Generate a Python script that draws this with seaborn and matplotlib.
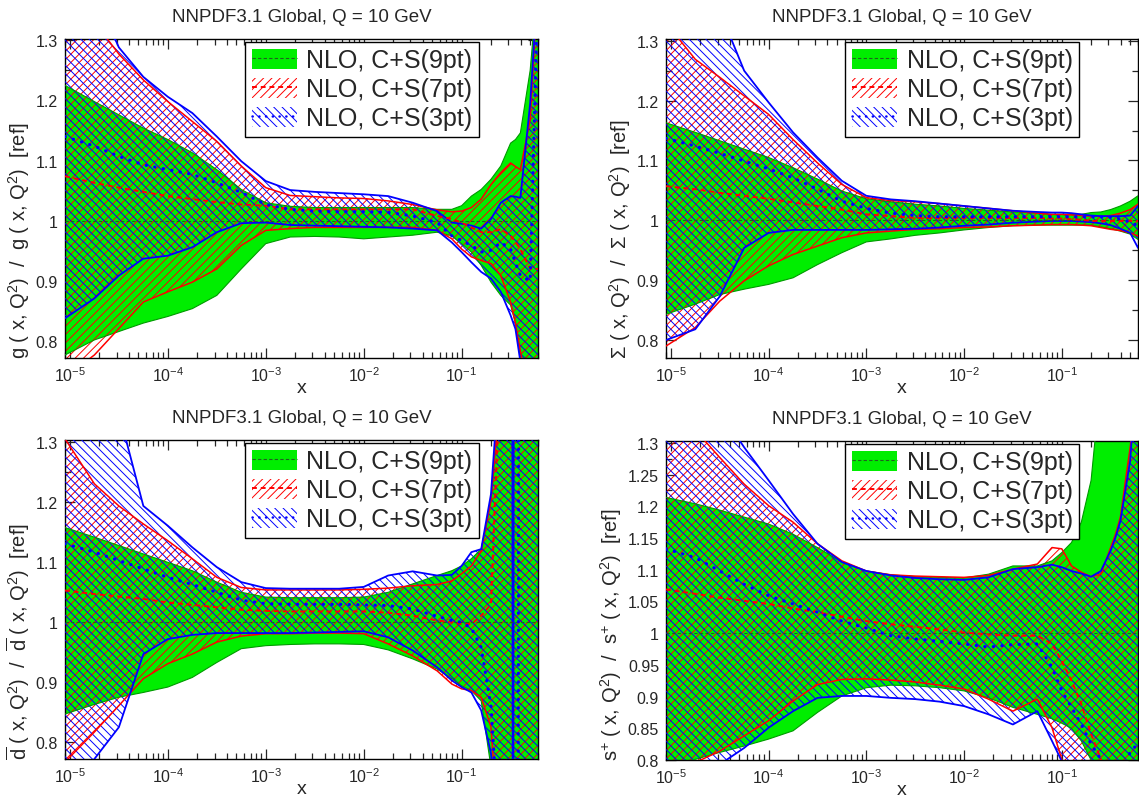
import numpy as np
import matplotlib
matplotlib.use('Agg')
import matplotlib.pyplot as plt
import seaborn as sns
from matplotlib.patches import Patch
from matplotlib.lines import Line2D
from matplotlib.ticker import LogLocator, MultipleLocator, FormatStrFormatter, NullFormatter

# log10(x) grid shared by all panels
logx = [-5.05, -4.75, -4.5, -4.25, -4.0, -3.75, -3.5, -3.25, -3.0, -2.75, -2.5, -2.25, -2.0, -1.75,
        -1.5, -1.25, -1.1, -1.0, -0.9, -0.8, -0.7, -0.6, -0.5, -0.45, -0.4, -0.3, -0.22]

# gluon
g9_up = [1.225, 1.198, 1.176, 1.154, 1.135, 1.113, 1.085, 1.052, 1.030, 1.024, 1.022, 1.022, 1.022, 1.022,
         1.022, 1.019, 1.019, 1.025, 1.041, 1.052, 1.069, 1.091, 1.129, 1.135, 1.146, 1.25, 1.40]
g9_lo = [0.777, 0.802, 0.816, 0.830, 0.841, 0.854, 0.876, 0.920, 0.962, 0.973, 0.974, 0.973, 0.970, 0.973,
         0.976, 0.981, 0.975, 0.962, 0.948, 0.926, 0.898, 0.876, 0.860, 0.83, 0.772, 0.70, 0.70]
g7_up = [1.40, 1.33, 1.277, 1.234, 1.198, 1.165, 1.132, 1.091, 1.055, 1.042, 1.040, 1.038, 1.037, 1.033,
         1.027, 1.018, 1.015, 1.016, 1.022, 1.036, 1.060, 1.080, 1.096, 1.09, 1.085, 1.168, 1.40]
g7_lo = [0.74, 0.777, 0.821, 0.865, 0.882, 0.898, 0.920, 0.959, 0.984, 0.987, 0.989, 0.989, 0.989, 0.989,
         0.989, 0.984, 0.970, 0.953, 0.940, 0.934, 0.929, 0.909, 0.865, 0.83, 0.783, 0.70, 0.70]
g7_c = [1.074, 1.063, 1.055, 1.048, 1.041, 1.036, 1.031, 1.027, 1.025, 1.019, 1.019, 1.019, 1.019, 1.019,
        1.019, 1.008, 1.003, 0.997, 0.989, 0.981, 0.981, 0.986, 0.975, 0.965, 0.953, 0.920, 0.920]
g3_up = [1.45, 1.38, 1.288, 1.239, 1.206, 1.179, 1.140, 1.099, 1.066, 1.051, 1.048, 1.046, 1.044, 1.041,
         1.030, 1.016, 0.997, 0.995, 0.992, 0.987, 1.003, 1.030, 1.041, 1.04, 1.038, 1.195, 1.40]
g3_lo = [0.838, 0.871, 0.909, 0.937, 0.942, 0.956, 0.981, 0.996, 0.997, 0.993, 0.992, 0.991, 0.990, 0.989,
         0.987, 0.984, 0.964, 0.948, 0.931, 0.915, 0.904, 0.882, 0.843, 0.82, 0.766, 0.70, 0.70]
g3_c = [1.140, 1.124, 1.107, 1.093, 1.085, 1.077, 1.063, 1.047, 1.027, 1.019, 1.016, 1.015, 1.015, 1.014,
        1.008, 0.997, 0.975, 0.967, 0.959, 0.948, 0.951, 0.964, 0.953, 0.93, 0.909, 0.90, 1.40]

# singlet
S9_up = [1.163, 1.147, 1.133, 1.119, 1.105, 1.088, 1.069, 1.049, 1.036, 1.031, 1.027, 1.024, 1.020, 1.017,
         1.014, 1.012, 1.010, 1.010, 1.010, 1.010, 1.013, 1.014, 1.018, 1.021, 1.024, 1.032, 1.041]
S9_lo = [0.843, 0.860, 0.876, 0.885, 0.893, 0.904, 0.926, 0.946, 0.964, 0.969, 0.975, 0.979, 0.984, 0.988,
         0.991, 0.992, 0.992, 0.992, 0.992, 0.992, 0.992, 0.989, 0.986, 0.984, 0.982, 0.977, 0.968]
S7_up = [1.33, 1.269, 1.239, 1.208, 1.177, 1.135, 1.096, 1.060, 1.038, 1.033, 1.031, 1.028, 1.024, 1.020,
         1.016, 1.012, 1.010, 1.010, 1.009, 1.008, 1.007, 1.007, 1.008, 1.010, 1.012, 1.018, 1.027]
S7_lo = [0.79, 0.821, 0.865, 0.899, 0.924, 0.943, 0.957, 0.971, 0.979, 0.982, 0.985, 0.986, 0.988, 0.989,
         0.991, 0.992, 0.993, 0.993, 0.993, 0.992, 0.991, 0.988, 0.985, 0.984, 0.983, 0.979, 0.974]
S7_c = [1.057, 1.052, 1.046, 1.041, 1.036, 1.030, 1.024, 1.018, 1.010, 1.007, 1.004, 1.004, 1.004, 1.004,
        1.004, 1.004, 1.003, 1.003, 1.002, 1.001, 0.999, 0.999, 0.999, 0.999, 0.999, 0.999, 0.999]
S3_up = [1.6, 1.45, 1.35, 1.250, 1.197, 1.147, 1.105, 1.066, 1.041, 1.035, 1.032, 1.028, 1.024, 1.020,
         1.016, 1.014, 1.013, 1.013, 1.012, 1.010, 1.008, 1.007, 1.007, 1.007, 1.007, 1.008, 1.024]
S3_lo = [0.800, 0.818, 0.873, 0.954, 0.979, 0.984, 0.984, 0.984, 0.984, 0.985, 0.986, 0.988, 0.991, 0.993,
         0.996, 0.998, 0.999, 0.999, 0.999, 0.998, 0.997, 0.995, 0.992, 0.989, 0.986, 0.979, 0.954]
S3_c = [1.137, 1.124, 1.112, 1.099, 1.086, 1.071, 1.052, 1.032, 1.020, 1.012, 1.008, 1.006, 1.006, 1.006,
        1.006, 1.006, 1.006, 1.006, 1.006, 1.006, 1.006, 1.006, 1.005, 1.004, 1.002, 0.997, 0.991]

# dbar
D9_up = [1.158, 1.142, 1.128, 1.114, 1.100, 1.086, 1.067, 1.050, 1.042, 1.041, 1.041, 1.041, 1.042, 1.050,
         1.064, 1.078, 1.086, 1.094, 1.106, 1.122, 1.203, 1.40, 1.40, 1.40, 1.40, 1.40, 1.40]
D9_lo = [0.847, 0.863, 0.875, 0.883, 0.892, 0.908, 0.933, 0.956, 0.961, 0.963, 0.964, 0.964, 0.963, 0.954,
         0.939, 0.922, 0.906, 0.894, 0.886, 0.869, 0.758, 0.60, 0.60, 0.60, 0.60, 0.60, 0.60]
D7_up = [1.306, 1.231, 1.194, 1.164, 1.136, 1.106, 1.075, 1.058, 1.054, 1.054, 1.054, 1.054, 1.055, 1.057,
         1.061, 1.063, 1.069, 1.081, 1.094, 1.119, 1.203, 1.40, 1.40, 1.40, 1.40, 1.40, 1.40]
D7_lo = [0.767, 0.817, 0.861, 0.906, 0.931, 0.947, 0.967, 0.977, 0.981, 0.981, 0.982, 0.982, 0.981, 0.964,
         0.944, 0.919, 0.897, 0.889, 0.886, 0.875, 0.825, 0.60, 0.60, 0.60, 0.60, 0.60, 0.60]
D7_c = [1.053, 1.047, 1.043, 1.039, 1.033, 1.029, 1.025, 1.021, 1.019, 1.018, 1.018, 1.018, 1.018, 1.016,
        1.011, 1.003, 1.000, 0.997, 0.997, 1.011, 1.03, 1.45, 1.45, 1.45, 1.45, 1.45, 1.45]
D3_up = [1.6, 1.45, 1.35, 1.194, 1.161, 1.125, 1.092, 1.067, 1.057, 1.056, 1.056, 1.056, 1.059, 1.078,
         1.085, 1.078, 1.079, 1.094, 1.117, 1.122, 1.214, 1.45, 5.0, -5.0, -5.0, -5.0, -5.0]
D3_lo = [0.70, 0.772, 0.825, 0.947, 0.972, 0.979, 0.982, 0.982, 0.982, 0.982, 0.983, 0.984, 0.985, 0.975,
         0.953, 0.925, 0.903, 0.892, 0.883, 0.853, 0.781, 0.60, -5.0, 5.0, 5.0, 5.0, 5.0]
D3_c = [1.131, 1.117, 1.103, 1.089, 1.075, 1.063, 1.050, 1.037, 1.031, 1.030, 1.030, 1.030, 1.029, 1.028,
        1.022, 1.010, 1.003, 1.000, 0.990, 0.958, 0.86, 0.60, -5.0, -5.0, 5.0, 5.0, 5.0]

# s+
s9_up = [1.214, 1.204, 1.194, 1.183, 1.172, 1.156, 1.135, 1.112, 1.098, 1.092, 1.089, 1.088, 1.087, 1.093,
         1.106, 1.106, 1.114, 1.127, 1.143, 1.175, 1.241, 1.40, 1.40, 1.40, 1.40, 1.40, 1.40]
s9_lo = [0.79, 0.801, 0.812, 0.822, 0.833, 0.846, 0.875, 0.901, 0.914, 0.918, 0.917, 0.914, 0.909, 0.898,
         0.883, 0.872, 0.865, 0.858, 0.850, 0.83, 0.80, 0.70, 0.70, 0.70, 0.70, 0.70, 0.70]
s7_up = [1.40, 1.32, 1.277, 1.235, 1.201, 1.175, 1.141, 1.114, 1.098, 1.092, 1.090, 1.089, 1.088, 1.091,
         1.101, 1.109, 1.135, 1.133, 1.106, 1.096, 1.089, 1.093, 1.135, 1.156, 1.183, 1.293, 1.40]
s7_lo = [0.783, 0.796, 0.814, 0.838, 0.862, 0.893, 0.919, 0.927, 0.928, 0.926, 0.923, 0.918, 0.912, 0.896,
         0.877, 0.896, 0.851, 0.801, 0.70, 0.70, 0.70, 0.70, 0.70, 0.70, 0.70, 0.70, 0.70]
s7_c = [1.069, 1.062, 1.056, 1.051, 1.046, 1.039, 1.033, 1.026, 1.019, 1.014, 1.010, 1.006, 1.001, 0.998,
        0.996, 0.996, 0.983, 0.956, 0.925, 0.888, 0.841, 0.801, 0.70, 0.70, 0.70, 0.70, 0.70]
s3_up = [1.6, 1.45, 1.35, 1.293, 1.241, 1.188, 1.141, 1.112, 1.098, 1.091, 1.087, 1.085, 1.084, 1.088,
         1.101, 1.104, 1.108, 1.104, 1.098, 1.094, 1.089, 1.098, 1.130, 1.151, 1.177, 1.272, 1.45]
s3_lo = [0.70, 0.74, 0.793, 0.819, 0.851, 0.877, 0.898, 0.901, 0.901, 0.898, 0.896, 0.892, 0.885, 0.872,
         0.856, 0.877, 0.830, 0.798, 0.70, 0.70, 0.70, 0.70, 0.70, 0.70, 0.70, 0.70, 0.70]
s3_c = [1.133, 1.119, 1.098, 1.077, 1.059, 1.046, 1.033, 1.019, 1.008, 0.996, 0.991, 0.987, 0.983, 0.978,
        0.982, 0.983, 0.946, 0.909, 0.883, 0.856, 0.825, 0.801, 0.75, 0.75, 0.75, 0.814, 0.825]

ref_ratio = 1.0
labels = ['NLO, C+S(9pt)', 'NLO, C+S(7pt)', 'NLO, C+S(3pt)']
title = 'NNPDF3.1 Global, Q = 10 GeV'

GREEN = '#00ee00'
DKGREEN = '#009a00'
HATCH_RED = '////'
HATCH_BLUE = '\\\\\\\\'

sns.set_style('ticks')
plt.rcParams['font.family'] = ['Liberation Sans', 'DejaVu Sans']
plt.rcParams['mathtext.fontset'] = 'custom'
plt.rcParams['mathtext.rm'] = 'Liberation Sans'
plt.rcParams['mathtext.it'] = 'Liberation Sans:italic'
plt.rcParams['mathtext.bf'] = 'Liberation Sans:bold'
plt.rcParams['hatch.linewidth'] = 0.7

x = 10 ** np.array(logx)
dot_style = dict(color='blue', lw=2.3, ls=(0, (0.1, 2.6)), dash_capstyle='round')
dash_style = dict(color='red', lw=1.4, ls=(0, (2.5, 2.0)))


def draw(ax, b9, b7, b3, ylim, ystep, yminor, ylabel):
    lo9, up9 = b9
    lo7, up7, c7 = b7
    lo3, up3, c3 = b3
    ax.fill_between(x, lo9, up9, facecolor=GREEN, edgecolor='none', lw=0, zorder=1)
    ax.fill_between(x, lo7, up7, facecolor='none', edgecolor='red', hatch=HATCH_RED, lw=0, zorder=2)
    ax.fill_between(x, lo3, up3, facecolor='none', edgecolor='blue', hatch=HATCH_BLUE, lw=0, zorder=3)
    for y in (lo9, up9):
        sns.lineplot(x=x, y=y, ax=ax, color=DKGREEN, lw=0.8, legend=False, zorder=4)
    for y in (lo7, up7):
        sns.lineplot(x=x, y=y, ax=ax, color='red', lw=1.1, legend=False, zorder=5)
    for y in (lo3, up3):
        sns.lineplot(x=x, y=y, ax=ax, color='blue', lw=1.3, legend=False, zorder=6)
    ax.axhline(ref_ratio, color='#206020', lw=0.8, ls=(0, (3, 2)), zorder=7)
    sns.lineplot(x=x, y=c7, ax=ax, legend=False, zorder=8, **dash_style)
    sns.lineplot(x=x, y=c3, ax=ax, legend=False, zorder=9, **dot_style)

    ax.set_xscale('log')
    ax.set_xlim(10 ** logx[0], 10 ** logx[-1])
    ax.set_ylim(*ylim)
    ax.xaxis.set_major_locator(LogLocator(base=10, numticks=10))
    ax.xaxis.set_minor_locator(LogLocator(base=10, subs=np.arange(2, 10), numticks=20))
    ax.xaxis.set_minor_formatter(NullFormatter())
    ax.yaxis.set_major_locator(MultipleLocator(ystep))
    ax.yaxis.set_minor_locator(MultipleLocator(yminor))
    ax.yaxis.set_major_formatter(FormatStrFormatter('%g'))
    ax.tick_params(which='both', direction='in', top=True, right=True, labelsize=11.5, width=0.9)
    ax.tick_params(which='major', length=7, pad=5)
    ax.tick_params(which='minor', length=4)
    for s in ax.spines.values():
        s.set_linewidth(1.0)
        s.set_color('black')
    ax.set_title(title, fontsize=13.5, pad=13)
    ax.set_xlabel('x', fontsize=14, labelpad=-3)
    ax.set_ylabel(ylabel, fontsize=14.5, loc='bottom', labelpad=3)

    hs = [
        (Patch(facecolor=GREEN, edgecolor='none'), Line2D([], [], color='#206020', lw=0.8, ls=(0, (3, 2)))),
        (Patch(facecolor='white', edgecolor='red', hatch=HATCH_RED, lw=0), Line2D([], [], **dash_style)),
        (Patch(facecolor='white', edgecolor='blue', hatch=HATCH_BLUE, lw=0),
         Line2D([], [], color='blue', lw=1.8, ls=(0, (0.1, 2.6)), dash_capstyle='round')),
    ]
    leg = ax.legend(hs, labels, loc='upper right', bbox_to_anchor=(0.875, 0.99), fontsize=18,
                    frameon=True, fancybox=False, framealpha=1, edgecolor='black',
                    handlelength=1.8, handleheight=0.85, handletextpad=0.4, labelspacing=0.2,
                    borderpad=0.25, borderaxespad=0)
    leg.get_frame().set_linewidth(1.0)
    leg.set_zorder(20)


fig = plt.figure(figsize=(11.39, 8.03), dpi=100)
W, H = 1139.0, 803.0
ax_tl = fig.add_axes([65 / W, 1 - 359 / H, 473 / W, 319 / H])
ax_tr = fig.add_axes([666 / W, 1 - 359 / H, 472 / W, 319 / H])
ax_bl = fig.add_axes([65 / W, 1 - 760 / H, 473 / W, 319 / H])
ax_br = fig.add_axes([666 / W, 1 - 761 / H, 472 / W, 319 / H])

draw(ax_tl, (g9_lo, g9_up), (g7_lo, g7_up, g7_c), (g3_lo, g3_up, g3_c), (0.772, 1.302), 0.1, 0.05,
     'g ( x, Q$^{2}$)  /  g ( x, Q$^{2}$)  [ref]')
draw(ax_tr, (S9_lo, S9_up), (S7_lo, S7_up, S7_c), (S3_lo, S3_up, S3_c), (0.77, 1.303), 0.1, 0.05,
     '\u03a3 ( x, Q$^{2}$)  /  \u03a3 ( x, Q$^{2}$)  [ref]')
draw(ax_bl, (D9_lo, D9_up), (D7_lo, D7_up, D7_c), (D3_lo, D3_up, D3_c), (0.772, 1.304), 0.1, 0.05,
     r'$\overline{\mathrm{d}}$ ( x, Q$^{2}$)  /  $\overline{\mathrm{d}}$ ( x, Q$^{2}$)  [ref]')
draw(ax_br, (s9_lo, s9_up), (s7_lo, s7_up, s7_c), (s3_lo, s3_up, s3_c), (0.80, 1.303), 0.05, 0.025,
     's$^{+}$ ( x, Q$^{2}$)  /  s$^{+}$ ( x, Q$^{2}$)  [ref]')

fig.savefig('out.png', dpi=100)
